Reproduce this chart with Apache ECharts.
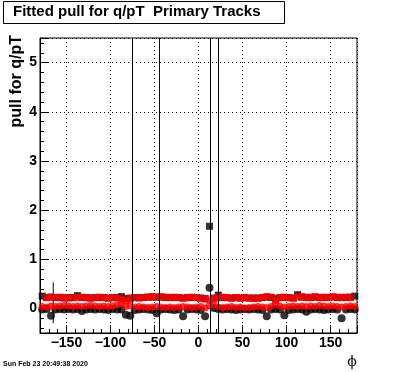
<!DOCTYPE html>
<html>
<head>
<meta charset="utf-8">
<script src="https://cdn.jsdelivr.net/npm/echarts@6/dist/echarts.min.js"></script>
<style>
html,body{margin:0;padding:0;background:#fff;}
#chart{width:396px;height:372px;}
</style>
</head>
<body>
<div id="chart"></div>
<script>
// ---- data ----
const titleText = 'Fitted pull for q/pT  Primary Tracks';
const yTitle = 'pull for q/pT';
const xTitle = '\u03D5';
const dateText = 'Sun Feb 23 20:49:38 2020';

const phi = [-177.5,-172.5,-167.5,-162.5,-157.5,-152.5,-147.5,-142.5,-137.5,-132.5,
  -127.5,-122.5,-117.5,-112.5,-107.5,-102.5,-97.5,-92.5,-87.5,-82.5,
  -77.5,-72.5,-67.5,-62.5,-57.5,-52.5,-47.5,-42.5,-37.5,-32.5,
  -27.5,-22.5,-17.5,-12.5,-7.5,-2.5,2.5,7.5,12.5,17.5,
  22.5,27.5,32.5,37.5,42.5,47.5,52.5,57.5,62.5,67.5,
  72.5,77.5,82.5,87.5,92.5,97.5,102.5,107.5,112.5,117.5,
  122.5,127.5,132.5,137.5,142.5,147.5,152.5,157.5,162.5,167.5,
  172.5,177.5];

const blackCircle = [-0.02,-0.01,-0.15,-0.02,-0.01,-0.02,-0.01,-0.02,-0.01,-0.05,
  -0.02,-0.01,-0.02,-0.01,-0.02,-0.03,-0.01,-0.02,-0.02,-0.13,
  -0.15,-0.03,-0.02,-0.01,-0.02,-0.03,-0.10,-0.02,-0.01,-0.02,
  -0.03,-0.02,-0.16,-0.02,-0.01,-0.02,-0.03,-0.16,0.42,0.01,
  -0.01,-0.02,-0.01,-0.02,-0.03,-0.02,-0.01,-0.02,-0.01,-0.02,
  -0.03,-0.16,-0.02,-0.01,-0.02,-0.14,-0.03,-0.02,-0.01,-0.02,
  -0.07,-0.02,-0.01,-0.02,-0.03,-0.02,-0.01,-0.02,-0.20,-0.02,
  -0.01,-0.02];

const blackSquare = [0.25,0.22,0.23,0.22,0.22,0.21,0.22,0.22,0.26,0.22,
  0.22,0.21,0.22,0.22,0.22,0.21,0.22,0.22,0.24,0.20,
  0.21,0.22,0.22,0.22,0.23,0.23,0.23,0.23,0.22,0.22,
  0.22,0.22,0.21,0.22,0.22,0.22,0.21,0.20,1.67,0.21,
  0.27,0.22,0.22,0.21,0.22,0.21,0.22,0.21,0.21,0.21,
  0.22,0.23,0.22,0.20,0.22,0.22,0.22,0.21,0.28,0.23,
  0.22,0.22,0.23,0.22,0.22,0.22,0.23,0.22,0.22,0.22,
  0.23,0.25];

const redSquare = [null,0.22,0.23,0.22,0.23,0.22,0.21,0.22,0.22,0.23,
  0.22,0.21,0.22,0.23,0.22,0.21,0.22,0.21,0.19,0.16,
  0.20,0.22,0.21,0.22,0.23,0.24,0.23,0.24,0.23,0.22,
  0.23,0.22,0.21,0.22,0.23,0.22,0.21,0.19,0.17,0.20,
  0.22,0.23,0.22,0.21,0.22,0.21,0.22,0.21,0.20,0.21,
  0.22,0.24,0.23,0.17,0.22,0.23,0.22,0.21,0.23,0.24,
  0.22,0.23,0.24,0.22,0.23,0.22,0.24,0.23,0.22,0.23,
  0.22,null];

const redCircle = [0.04,0.03,0.05,0.04,0.05,0.06,0.05,0.04,0.05,0.04,
  0.05,0.06,0.05,0.04,0.05,0.04,0.05,0.07,0.10,0.04,
  0.06,0.03,0.04,0.03,0.02,0.03,0.04,0.03,0.02,0.03,
  0.02,0.03,0.04,0.03,0.02,0.03,0.04,0.01,0.05,0.08,
  0.03,0.02,0.03,0.04,0.02,0.03,0.01,0.02,0.03,0.04,
  0.03,0.02,0.04,0.09,0.05,0.03,0.04,0.05,0.04,0.05,
  0.04,0.05,0.04,0.06,0.05,0.04,0.05,0.04,0.03,0.04,
  0.05,0.04];

// error bars: [phi, low, high]
const errorBars = [[-165, -0.30, 0.53]];
// error bars that run beyond the frame
const fullErrorBarPhi = [-74.7, -45.1, 13.6, 21.9];

const xMin = -180, xMax = 180, yMin = -0.5, yMax = 5.5;

function pairs(vals){
  const out = [];
  vals.forEach((v,i)=>{ if (v !== null) out.push([phi[i], v]); });
  return out;
}

const FONT = 'Liberation Sans';
const chart = echarts.init(document.getElementById('chart'), null, {renderer:'canvas'});

const gridLine = {show:true, lineStyle:{color:'#000', width:1, type:[1,3]}};

chart.setOption({
  animation:false,
  backgroundColor:'#fff',
  grid:{left:40, top:38, right:39, bottom:39, show:true, borderColor:'#000', borderWidth:1, backgroundColor:'transparent'},
  xAxis:{
    type:'value', min:xMin, max:xMax, splitNumber:7,
    axisLine:{show:true, onZero:false, lineStyle:{color:'#000', width:1}},
    axisTick:{show:true, inside:true, length:8, lineStyle:{color:'#000'}},
    minorTick:{show:true, splitNumber:5, length:4, lineStyle:{color:'#000'}},
    splitLine:gridLine,
    axisLabel:{showMinLabel:false, showMaxLabel:false, margin:3, color:'#000',
      fontFamily:FONT, fontWeight:'bold', fontSize:14,
      formatter:v=> (v<0 ? '\u2212'+Math.abs(v) : String(v))}
  },
  yAxis:{
    type:'value', min:yMin, max:yMax, splitNumber:6,
    axisLine:{show:true, onZero:false, lineStyle:{color:'#000', width:1}},
    axisTick:{show:true, inside:true, length:8, lineStyle:{color:'#000'}},
    minorTick:{show:true, splitNumber:5, length:4, lineStyle:{color:'#000'}},
    splitLine:gridLine,
    axisLabel:{showMinLabel:false, showMaxLabel:false, margin:3, color:'#000',
      fontFamily:FONT, fontWeight:'bold', fontSize:14}
  },
  series:[
    {
      type:'scatter', name:'bc', symbol:'circle', symbolSize:8,
      itemStyle:{color:'#000'}, data:pairs(blackCircle), z:2,
      markLine:{symbol:'none', silent:true, label:{show:false},
        lineStyle:{color:'#000', width:1, type:'solid'},
        data: fullErrorBarPhi.map(p=>({xAxis:p}))}
    },
    {
      type:'custom', name:'err', z:2,
      renderItem:(params, api)=>{
        const a = api.coord([api.value(0), api.value(1)]);
        const b = api.coord([api.value(0), api.value(2)]);
        return {type:'line', shape:{x1:a[0], y1:a[1], x2:b[0], y2:b[1]},
          style:{stroke:'#000', lineWidth:1}};
      },
      data:errorBars
    },
    {
      type:'scatter', name:'bs', symbol:'rect', symbolSize:7,
      itemStyle:{color:'#000'}, data:pairs(blackSquare), z:2
    },
    {
      type:'scatter', name:'rs', symbol:'rect', symbolSize:7,
      itemStyle:{color:'#ff0000'}, data:pairs(redSquare), z:3
    },
    {
      type:'scatter', name:'rc', symbol:'circle', symbolSize:7,
      itemStyle:{color:'#ff0000'}, data:pairs(redCircle), z:3
    }
  ],
  graphic:[
    {type:'rect', shape:{x:3.5, y:1.5, width:281, height:22}, style:{fill:'#fff', stroke:'#000', lineWidth:1}, z:10},
    {type:'text', x:13, y:4, z:11, style:{text:titleText, fill:'#000', font:'bold 15px "'+FONT+'"', textAlign:'left', textVerticalAlign:'top'}},
    {type:'text', x:9, y:35, rotation:Math.PI/2, z:11, style:{text:yTitle, fill:'#000', font:'bold 16px "'+FONT+'"', textAlign:'right', textVerticalAlign:'top'}},
    {type:'text', x:352, y:355, z:11, style:{text:xTitle, fill:'#000', font:'14px "DejaVu Serif"', textAlign:'center', textVerticalAlign:'top'}},
    {type:'text', x:3, y:361, z:11, style:{text:dateText, fill:'#000', font:'bold 7px "'+FONT+'"', textAlign:'left', textVerticalAlign:'top'}}
  ]
});
</script>
</body>
</html>
